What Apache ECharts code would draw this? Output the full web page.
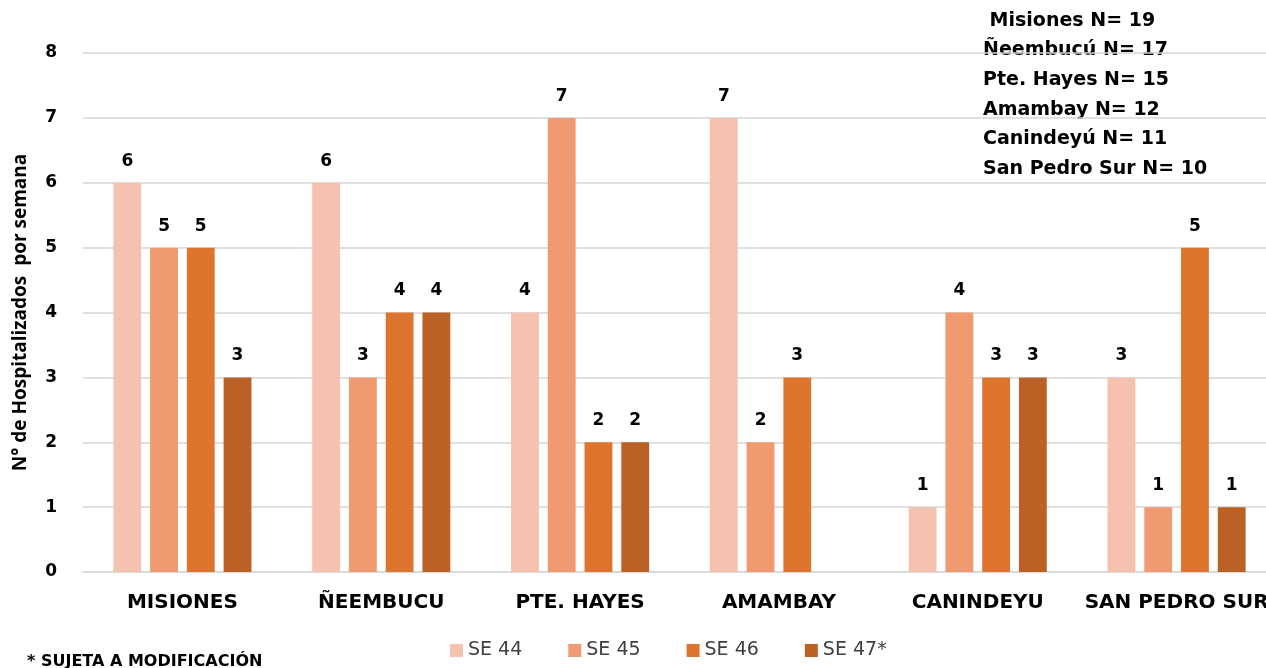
<!DOCTYPE html>
<html>
<head>
<meta charset="UTF-8">
<title>Hospitalizados por semana</title>
<script src="https://cdn.jsdelivr.net/npm/echarts@6/dist/echarts.min.js"></script>
<style>
  body { margin: 0; background: #fff; overflow: hidden; }
  #chart { width: 1276px; height: 668px; }
</style>
</head>
<body>
<div id="chart"></div>
<script>
// datos
var departamentos = ['MISIONES', 'ÑEEMBUCU', 'PTE. HAYES', 'AMAMBAY', 'CANINDEYU', 'SAN PEDRO SUR'];
var se44 = [6, 6, 4, 7, 1, 3];
var se45 = [5, 3, 7, 2, 4, 1];
var se46 = [5, 4, 2, 3, 3, 5];
var se47 = [3, 4, 2, null, 3, 1];
var semanas = ['SE 44', 'SE 45', 'SE 46', 'SE 47*'];
var colores = ['#F4C2AF', '#EF9A70', '#DE752F', '#BB6125'];
var totales = ['Misiones N= 19', 'Ñeembucú N= 17', 'Pte. Hayes N= 15', 'Amambay N= 12', 'Canindeyú N= 11', 'San Pedro Sur N= 10'];

var fuente = '"DejaVu Sans", sans-serif';
var valores = [se44, se45, se46, se47];

var series = semanas.map(function (nombre, i) {
  return {
    name: nombre,
    type: 'bar',
    data: valores[i],
    barWidth: '14%',
    barGap: '32%',
    itemStyle: { color: colores[i] },
    label: {
      show: true,
      position: 'top',
      distance: 13,
      color: '#000',
      fontWeight: 'bold',
      fontSize: 17,
      fontFamily: fuente
    }
  };
});

var chart = echarts.init(document.getElementById('chart'));
chart.setOption({
  animation: false,
  grid: { left: 83, right: 0, top: 53, bottom: 96, containLabel: false },
  legend: {
    data: semanas,
    bottom: 3,
    left: 445,
    itemWidth: 13,
    itemHeight: 13,
    itemGap: 46,
    icon: 'rect',
    textStyle: { fontSize: 19, color: '#404040', fontFamily: fuente }
  },
  xAxis: {
    type: 'category',
    data: departamentos,
    axisTick: { show: false },
    axisLine: { lineStyle: { color: '#d9d9d9', width: 1.5 } },
    axisLabel: {
      color: '#000',
      fontWeight: 'bold',
      fontSize: 20,
      fontFamily: fuente,
      margin: 21,
      interval: 0
    }
  },
  yAxis: {
    type: 'value',
    min: 0,
    max: 8,
    interval: 1,
    name: 'N° de Hospitalizados  por semana',
    nameLocation: 'middle',
    nameGap: 53,
    nameTextStyle: { color: '#000', fontWeight: 'bold', fontSize: 19, fontFamily: '"Open Sans", sans-serif' },
    axisLine: { show: false },
    axisTick: { show: false },
    axisLabel: { color: '#000', fontWeight: 'bold', fontSize: 17, fontFamily: fuente, margin: 26 },
    splitLine: { lineStyle: { color: '#d6d6d6', type: 'solid', width: 1.5 } }
  },
  graphic: [
    {
      type: 'text',
      left: 983,
      top: 6,
      style: {
        text: totales.map(function (t, i) { return (i === 0 ? ' ' : '') + t; }).join('\n'),
        font: 'bold 19px "DejaVu Sans", sans-serif',
        lineHeight: 29.6,
        fill: '#000'
      }
    },
    {
      type: 'text',
      left: 27,
      top: 654,
      style: {
        text: '* SUJETA A MODIFICACIÓN',
        font: 'bold 16px "DejaVu Sans", sans-serif',
        fill: '#000'
      }
    }
  ],
  series: series
});
</script>
</body>
</html>
